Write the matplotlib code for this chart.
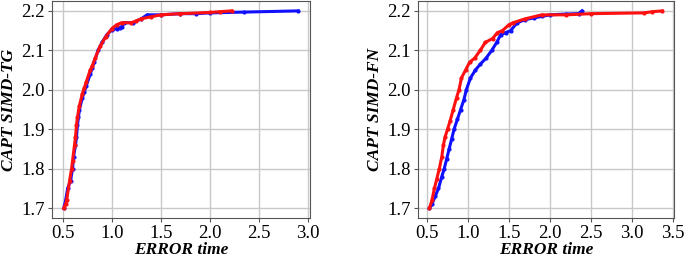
import matplotlib
matplotlib.use("Agg")
import matplotlib.pyplot as plt

# Left panel: CAPT SIMD-TG
tg_blue_x = [0.51, 0.53, 0.55, 0.58, 0.60, 0.61, 0.63, 0.64, 0.65, 0.66, 0.67, 0.70, 0.72, 0.74, 0.78, 0.80, 0.82, 0.86, 0.90, 0.95, 1.00, 1.05, 1.08, 1.10, 1.12, 1.22, 1.30, 1.36, 1.50, 1.70, 1.86, 2.00, 2.35, 2.90]
tg_blue_y = [1.700, 1.720, 1.750, 1.770, 1.800, 1.830, 1.860, 1.880, 1.910, 1.930, 1.950, 1.980, 1.995, 2.010, 2.040, 2.055, 2.070, 2.100, 2.120, 2.140, 2.152, 2.155, 2.157, 2.160, 2.170, 2.170, 2.180, 2.190, 2.190, 2.193, 2.193, 2.195, 2.197, 2.200]
tg_red_x = [0.51, 0.53, 0.54, 0.57, 0.59, 0.60, 0.62, 0.63, 0.64, 0.65, 0.67, 0.70, 0.72, 0.74, 0.78, 0.80, 0.83, 0.88, 0.94, 1.00, 1.05, 1.10, 1.20, 1.25, 1.30, 1.40, 1.50, 1.70, 2.00, 2.10, 2.22]
tg_red_y = [1.700, 1.710, 1.720, 1.770, 1.800, 1.820, 1.860, 1.880, 1.910, 1.930, 1.960, 1.990, 2.005, 2.020, 2.050, 2.060, 2.080, 2.110, 2.135, 2.155, 2.165, 2.170, 2.170, 2.175, 2.180, 2.185, 2.190, 2.193, 2.196, 2.198, 2.200]

# Right panel: CAPT SIMD-FN
fn_blue_x = [0.53, 0.56, 0.60, 0.64, 0.68, 0.71, 0.74, 0.77, 0.80, 0.83, 0.87, 0.91, 0.95, 0.98, 1.03, 1.09, 1.15, 1.22, 1.29, 1.35, 1.40, 1.46, 1.52, 1.60, 1.70, 1.80, 1.90, 2.00, 2.20, 2.35, 2.39]
fn_blue_y = [1.700, 1.710, 1.730, 1.750, 1.780, 1.800, 1.825, 1.850, 1.875, 1.900, 1.925, 1.950, 1.975, 2.000, 2.030, 2.050, 2.065, 2.080, 2.100, 2.120, 2.140, 2.145, 2.150, 2.170, 2.178, 2.182, 2.186, 2.190, 2.192, 2.193, 2.200]
fn_red_x = [0.53, 0.56, 0.59, 0.62, 0.65, 0.68, 0.70, 0.72, 0.75, 0.78, 0.82, 0.86, 0.89, 0.92, 0.97, 1.02, 1.08, 1.15, 1.21, 1.30, 1.36, 1.42, 1.50, 1.55, 1.70, 1.90, 2.20, 2.50, 3.15, 3.25, 3.37]
fn_red_y = [1.700, 1.720, 1.750, 1.775, 1.800, 1.830, 1.860, 1.880, 1.900, 1.920, 1.950, 1.980, 2.000, 2.030, 2.050, 2.070, 2.080, 2.100, 2.120, 2.130, 2.145, 2.150, 2.165, 2.170, 2.180, 2.190, 2.190, 2.193, 2.195, 2.198, 2.200]

x_ticks_left = [0.5, 1.0, 1.5, 2.0, 2.5, 3.0]
x_ticks_right = [0.5, 1.0, 1.5, 2.0, 2.5, 3.0, 3.5]
y_ticks = [1.7, 1.8, 1.9, 2.0, 2.1, 2.2]

plt.rcParams['font.family'] = ['Liberation Serif', 'DejaVu Serif']

fig = plt.figure(figsize=(6.85, 2.58), dpi=100)
ax1 = fig.add_axes([0.0759, 0.155, 0.3766, 0.841])
ax2 = fig.add_axes([0.610, 0.155, 0.3737, 0.841])

def style(ax, bx, by, rx, ry, xt, ylabel):
    ax.plot(bx, by, color='#1010ff', marker='o', markersize=2.0, linewidth=2.2)
    ax.plot(rx, ry, color='#ff1010', marker='o', markersize=2.0, linewidth=2.2)
    ax.set_xticks(xt)
    ax.set_yticks(y_ticks)
    ax.set_xticklabels([f"{v:.1f}" for v in xt])
    ax.set_yticklabels([f"{v:.1f}" for v in y_ticks])
    ax.grid(True, color='#c8c8c8', linewidth=1.0)
    ax.set_axisbelow(True)
    ax.tick_params(labelsize=13.5, length=3, pad=2, color='#555555')
    for s in ax.spines.values():
        s.set_color('#555555')
    ax.set_xlabel('ERROR time', fontsize=12.5, fontweight='bold', fontstyle='italic', labelpad=0)
    ax.set_ylabel(ylabel, fontsize=12.5, fontweight='bold', fontstyle='italic', labelpad=3)

style(ax1, tg_blue_x, tg_blue_y, tg_red_x, tg_red_y, x_ticks_left, 'CAPT SIMD-TG')
style(ax2, fn_blue_x, fn_blue_y, fn_red_x, fn_red_y, x_ticks_right, 'CAPT SIMD-FN')

fig.savefig('out.png', dpi=100)
